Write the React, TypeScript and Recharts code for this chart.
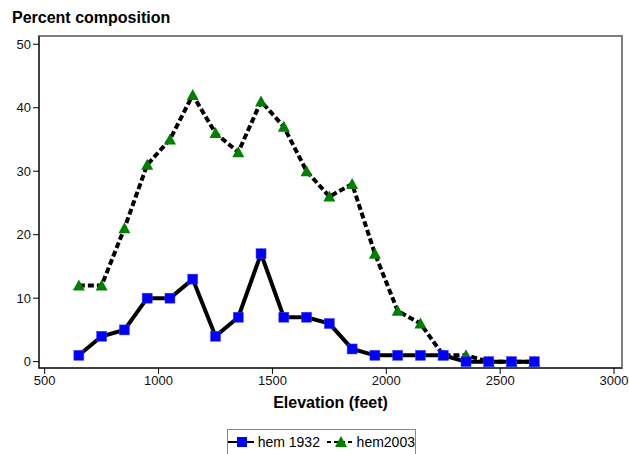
import React from 'react';
import { LineChart, Line, XAxis, YAxis, ReferenceArea } from 'recharts';

// elevation midpoints (feet)
const elevations = [650, 750, 850, 950, 1050, 1150, 1250, 1350, 1450, 1550, 1650, 1750, 1850, 1950, 2050, 2150, 2250, 2350, 2450, 2550, 2650];
const hem1932 = [1, 4, 5, 10, 10, 13, 4, 7, 17, 7, 7, 6, 2, 1, 1, 1, 1, 0, 0, 0, 0];
const hem2003 = [12, 12, 21, 31, 35, 42, 36, 33, 41, 37, 30, 26, 28, 17, 8, 6, 1, 1, 0, 0, 0];
const xTicks = [500, 1000, 1500, 2000, 2500, 3000];
const yTicks = [0, 10, 20, 30, 40, 50];

const data = elevations.map((e, i) => ({ elev: e, hem1932: hem1932[i], hem2003: hem2003[i] }));

const FONT = '"Liberation Sans", Arial, sans-serif';

const SquareDot = (props: any) => {
    const { cx, cy } = props;
    if (cx == null || cy == null) return null;
    return <rect x={cx - 5} y={cy - 5} width={10} height={10} fill="#0000ff" stroke="#4040ff" strokeWidth={0.5} />;
};

const TriangleDot = (props: any) => {
    const { cx, cy } = props;
    if (cx == null || cy == null) return null;
    return <polygon points={`${cx},${cy - 6} ${cx + 6},${cy + 5} ${cx - 6},${cy + 5}`} fill="#008000" />;
};

const tickStyle = { fontSize: 13, fill: '#111', fontFamily: FONT };

export default function App() {
    return (
        <div style={{ position: 'relative', width: 629, height: 454, background: '#fff', fontFamily: FONT, overflow: 'hidden' }}>
            <style>{`body { margin: 0; }`}</style>
            <div style={{ position: 'absolute', left: 12, top: 9, fontSize: 16, fontWeight: 'bold', color: '#000', whiteSpace: 'nowrap' }}>
                Percent composition
            </div>
            <LineChart
                width={629}
                height={454}
                data={data}
                margin={{ top: 36, right: 7, left: 0, bottom: 46 }}
            >
                <ReferenceArea x1={475} x2={3035} y1={-1} y2={51.3} fill="none" stroke="#808080" strokeWidth={2} ifOverflow="extendDomain" />
                <XAxis
                    dataKey="elev"
                    type="number"
                    domain={[475, 3035]}
                    ticks={xTicks}
                    allowDataOverflow
                    stroke="#000"
                    tickSize={6}
                    tick={tickStyle}
                    height={40}
                    label={{ value: 'Elevation (feet)', position: 'insideBottom', offset: 0, style: { fontSize: 16, fontWeight: 'bold', fill: '#000', fontFamily: FONT } }}
                />
                <YAxis
                    type="number"
                    domain={[-1, 51.3]}
                    ticks={yTicks}
                    allowDataOverflow
                    stroke="#000"
                    tickSize={6}
                    tick={tickStyle}
                    width={39}
                />
                <Line
                    type="linear"
                    dataKey="hem2003"
                    stroke="#000"
                    strokeWidth={4}
                    strokeDasharray="6 3"
                    dot={<TriangleDot />}
                    activeDot={false}
                    isAnimationActive={false}
                />
                <Line
                    type="linear"
                    dataKey="hem1932"
                    stroke="#000"
                    strokeWidth={4}
                    dot={<SquareDot />}
                    activeDot={false}
                    isAnimationActive={false}
                />
            </LineChart>
            <div style={{
                position: 'absolute', left: 227, top: 429, width: 189, height: 26,
                border: '1px solid #888', boxSizing: 'border-box', whiteSpace: 'nowrap',
                display: 'flex', alignItems: 'center', justifyContent: 'center', gap: 4, fontSize: 14, color: '#000'
            }}>
                <svg width={28} height={14}>
                    <line x1={0} y1={7} x2={28} y2={7} stroke="#000" strokeWidth={2} />
                    <rect x={9} y={2} width={10} height={10} fill="#0000ff" />
                </svg>
                <span>hem 1932</span>
                <svg width={28} height={14} style={{ marginLeft: 3 }}>
                    <line x1={0} y1={7} x2={28} y2={7} stroke="#000" strokeWidth={2} strokeDasharray="4 3" />
                    <polygon points="14,1 20,12 8,12" fill="#008000" />
                </svg>
                <span>hem2003</span>
            </div>
        </div>
    );
}
